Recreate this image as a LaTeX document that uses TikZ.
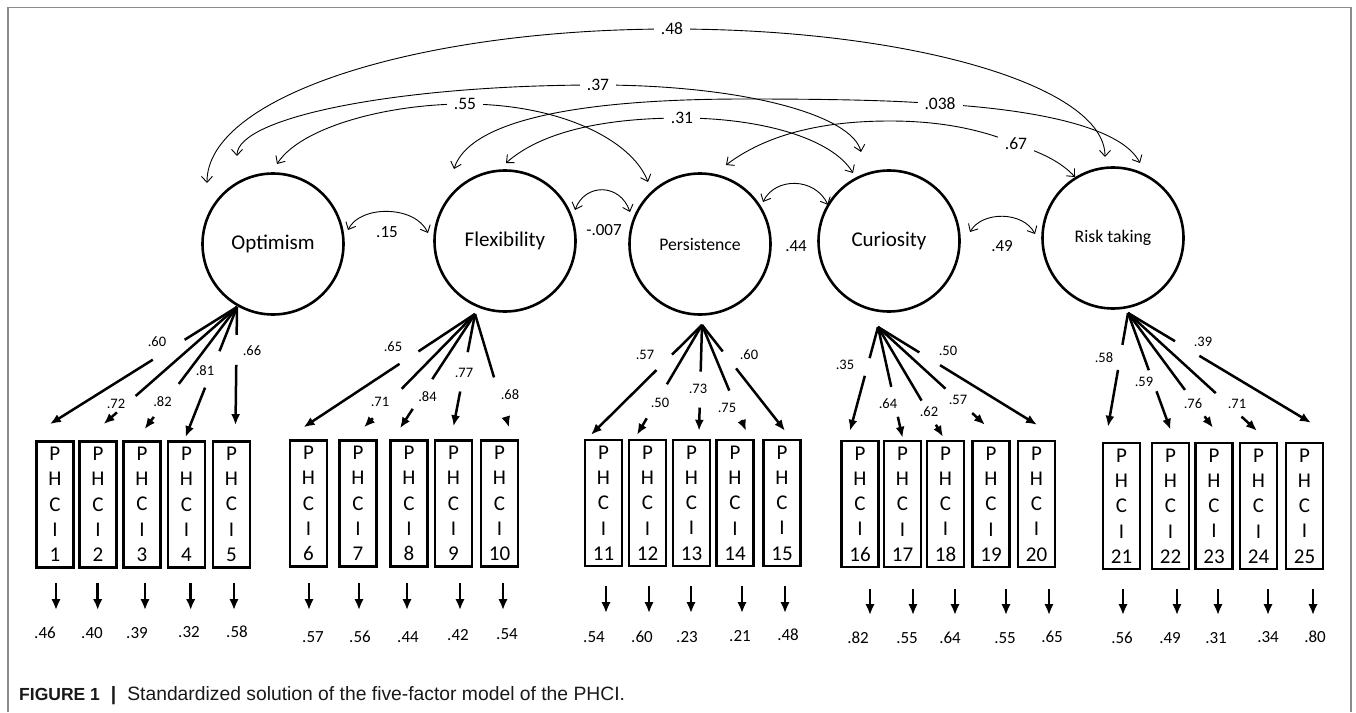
\documentclass[tikz,border=0pt]{standalone}
\usepackage{fontspec}
\setmainfont{Carlito}
\newfontfamily\capfont{Liberation Sans}
\usetikzlibrary{arrows.meta,calc}
\tikzset{
 factor/.style={circle, draw, line width=2.6pt, minimum size=141pt, inner sep=0pt},
 itembox/.style={rectangle, draw, line width=2.4pt, minimum width=37pt, minimum height=126pt, inner sep=0pt, align=center, font=\fontsize{21}{25.3}\selectfont},
 loadline/.style={line width=2.5pt},
 loadhead/.style={-{Latex[length=11pt,width=9pt]}},
 loadlbl/.style={font=\fontsize{14.5}{16}\selectfont, inner sep=0pt},
 corr/.style={line width=0.9pt, {Straight Barb[length=6pt,width=11pt]}-{Straight Barb[length=6pt,width=11pt]}},
 clbl/.style={font=\fontsize{17.5}{19}\selectfont, fill=white, inner xsep=7pt, inner ysep=2pt},
 clbltwo/.style={font=\fontsize{17}{19}\selectfont, inner sep=0pt},
 resid/.style={line width=2.5pt, -{Latex[length=11pt,width=9.5pt]}},
 rlbl/.style={font=\fontsize{17}{19}\selectfont, inner sep=0pt},
 frameline/.style={line width=1.2pt, draw=black!45},
}
\newcommand\LoadArrow[9]{%
 \coordinate (#9t) at ($(#2.north)+(#3,#4)$);
 \draw[loadline] (#1) -- ($(#1)!#5!(#9t)$);
 \draw[loadline,loadhead] ($(#1)!#6!(#9t)$) -- (#9t);
 \node[loadlbl] (#9) at (#8) {#7};
}
\begin{document}
\begin{tikzpicture}[x=1pt,y=-1pt]
\useasboundingbox[fill=white] (0,0) rectangle (1356,712);
\draw[frameline] (8,712) -- (8,7.5) -- (1351,7.5) -- (1351,712);

% factors
\node[factor, font=\fontsize{21}{25}\selectfont] (opt) at (273,244) {Optimism};
\node[factor, font=\fontsize{21}{25}\selectfont] (flex) at (505,241) {Flexibility};
\node[factor, font=\fontsize{17.7}{21}\selectfont] (pers) at (700,244) {Persistence};
\node[factor, font=\fontsize{21}{25}\selectfont] (cur) at (889,241) {Curiosity};
\node[factor, font=\fontsize{17.7}{21}\selectfont] (risk) at (1113,238) {Risk taking};

% items
\foreach \i/\x/\y in {1/54.9/504.3, 2/98/504.3, 3/142/504.3, 4/186.5/504.3, 5/231.5/504.3,
  6/308.5/503.5, 7/358/503.5, 8/409/503.5, 9/453.5/503.5, 10/499.5/503.5,
  11/603.5/503, 12/647.5/503, 13/691.5/503, 14/735/503, 15/782/503,
  16/860/504, 17/902.5/504, 18/945.5/504, 19/991/504, 20/1036.5/504,
  21/1121.5/506, 22/1170.5/506, 23/1214/506, 24/1258.5/506, 25/1304.5/506}
  \node[itembox] (b\i) at (\x,\y) {P\\H\\C\\I\\\i};

% convergence points
\coordinate (optc) at ($(opt)+(-36,63)$);
\coordinate (flexc) at ($(flex)+(-30,73)$);
\coordinate (persc) at ($(pers)+(2,81)$);
\coordinate (curc) at ($(cur)+(-11,86)$);
\coordinate (riskc) at ($(risk)+(15,75)$);

% loadings
\LoadArrow{optc}{b1}{-5}{-16}{0.28}{0.45}{.60}{157,342}{L1}
\LoadArrow{optc}{b2}{5.6}{-16}{0.76}{0.90}{.72}{116,404}{L2}
\LoadArrow{optc}{b3}{2.6}{-11}{0.63}{0.90}{.82}{162.5,402}{L3}
\LoadArrow{optc}{b4}{-1}{-3}{0.34}{0.62}{.81}{205,371}{L4}
\LoadArrow{optc}{b5}{4}{-15}{0.235}{0.49}{.66}{252,351}{L5}
\LoadArrow{flexc}{b6}{-5}{-12}{0.33}{0.44}{.65}{393,347}{L6}
\LoadArrow{flexc}{b7}{6}{-12}{0.66}{0.92}{.71}{380,402}{L7}
\LoadArrow{flexc}{b8}{-9}{-11}{0.57}{0.83}{.84}{427.5,397}{L8}
\LoadArrow{flexc}{b9}{0}{-13}{0.34}{0.69}{.77}{464,373}{L9}
\LoadArrow{flexc}{b10}{9.5}{-12}{0.56}{0.92}{.68}{510,395}{L10}
\LoadArrow{persc}{b11}{-12.5}{-4}{0.27}{0.41}{.57}{645,355}{L11}
\LoadArrow{persc}{b12}{-10.5}{-4}{0.54}{0.85}{.50}{660,403}{L12}
\LoadArrow{persc}{b13}{7.5}{-8}{0.44}{0.78}{.73}{698,389}{L13}
\LoadArrow{persc}{b14}{11}{-8}{0.62}{0.90}{.75}{727,408}{L14}
\LoadArrow{persc}{b15}{3}{-8}{0.25}{0.41}{.60}{749,355}{L15}
\LoadArrow{curc}{b16}{-10}{-9}{0.30}{0.47}{.35}{845,365}{L16}
\LoadArrow{curc}{b17}{0}{-2}{0.54}{0.81}{.64}{888,404}{L17}
\LoadArrow{curc}{b18}{-2.5}{-3}{0.67}{0.89}{.62}{929,412}{L18}
\LoadArrow{curc}{b19}{-6}{-15}{0.63}{0.88}{.57}{958,400}{L19}
\LoadArrow{curc}{b20}{0.5}{-15}{0.26}{0.39}{.50}{948,351}{L20}
\LoadArrow{riskc}{b21}{-13.5}{-15}{0.28}{0.50}{.58}{1104,358}{L21}
\LoadArrow{riskc}{b22}{0}{-12}{0.49}{0.67}{.59}{1144,382}{L22}
\LoadArrow{riskc}{b23}{-1}{-14}{0.67}{0.90}{.76}{1193,404}{L23}
\LoadArrow{riskc}{b24}{-1.5}{-11}{0.68}{0.88}{.71}{1237,404}{L24}
\LoadArrow{riskc}{b25}{6.5}{-19}{0.257}{0.39}{.39}{1203,342}{L25}

% residuals
\foreach \i/\x/\ya/\yb/\lx/\ly/\t in {
  1/56/583/610/45/633/.46, 2/97.7/583/610/92/633/.40, 3/145/583/610/137/633/.39, 4/190.7/583/610/189/632/.32, 5/234/583/610/237/632/.58,
  6/309/583/610/313/637/.57, 7/359/583/610/360/637/.56, 8/407/583/610/408/637/.44, 9/460/583/610/458/635/.42, 10/503/583/610/507/634/.54,
  11/606/586/613/594/637/.54, 12/649/586/613/642/637/.60, 13/691/586/613/687/637/.23, 14/742/586/613/740/636/.21, 15/785/586/613/788/635/.48,
  16/870/589/615/858/638/.82, 17/913/589/615/907/638/.55, 18/955/589/615/950/638/.64, 19/1006/589/615/1005/638/.55, 20/1049/589/615/1052/637/.65,
  21/1123/589/615/1122/638/.56, 22/1177/589/615/1170/638/.49, 23/1218/589/615/1216/638/.31, 24/1268/589/615/1268/637/.34, 25/1313/589/615/1315/637/.80}{
  \coordinate (r\i a) at (\x,\ya);
  \coordinate (r\i b) at (\x,\yb);
  \draw[resid] (r\i a) -- (r\i b);
  \node[rlbl] (rl\i) at (\lx,\ly) {\t};
}

% large correlations
\draw[corr] ($(opt)+(-66,-61)$) .. controls (206.6,97) and (415,29) .. (672,29) node[clbl] (c48) {.48}
   .. controls (911,29) and (1105,86) .. ($(risk)+(-8,-81)$);
\draw[corr] ($(opt)+(-36,-88)$) .. controls (237,117) and (399,85) .. (598,85) node[clbl] (c37) {.37}
   .. controls (743,85) and (852,115) .. ($(cur)+(-28,-89)$);
\draw[corr] ($(opt)+(4,-80)$) .. controls (300,128) and (385,104) .. (465,104) node[clbl] (c55) {.55}
   .. controls (560,104) and (632,140) .. ($(pers)+(-52,-62)$);
\draw[corr] ($(flex)+(1,-78)$) .. controls (540,133) and (600,118) .. (682,118) node[clbl] (c31) {.31}
   .. controls (760,118) and (832,138) .. ($(cur)+(-36,-68)$);
\draw[corr] ($(flex)+(-51,-72)$) .. controls (468,125) and (560,99) .. (745,99)
   .. controls (850,99) and (900,101) .. (940,104) node[clbl] (c038) {.038}
   .. controls (1040,110) and (1122,128) .. ($(risk)+(27,-75)$);
\draw[corr] ($(pers)+(26,-79)$) .. controls (775,128) and (840,121) .. (890,121)
   .. controls (945,121) and (985,131) .. (1016,144) node[clbl] (c67) {.67}
   .. controls (1045,154) and (1062,163) .. ($(risk)+(-38,-61)$);

% adjacent correlations
\draw[corr] ($(opt)+(75,-14)$) .. controls (360,205) and (415,205) .. ($(flex)+(-77,-8)$);
\node[clbltwo] (c15) at (387,232) {.15};
\draw[corr] ($(flex)+(70,-31)$) .. controls (585,183) and (620,183) .. ($(pers)+(-70,-32)$);
\node[clbltwo] (c007) at (604,230) {-.007};
\draw[corr] ($(pers)+(63,-42)$) .. controls (775,177) and (815,177) .. ($(cur)+(-61,-36)$);
\node[clbltwo] (c44) at (796,246) {.44};
\draw[corr] ($(cur)+(81,-9)$) .. controls (982,211) and (1023,211) .. ($(risk)+(-78,-4)$);
\node[clbltwo] (c49) at (1002,246) {.49};

% caption
\node[anchor=base west, inner sep=0pt, font=\capfont\fontsize{19.3}{22}\selectfont, text=black!90] (cap) at (19,700)
  {{\fontsize{17.5}{22}\selectfont\bfseries FIGURE 1}\hspace{11pt}{\bfseries |}\hspace{11pt}Standardized solution of the five-factor model of the PHCI.};
\end{tikzpicture}
\end{document}
